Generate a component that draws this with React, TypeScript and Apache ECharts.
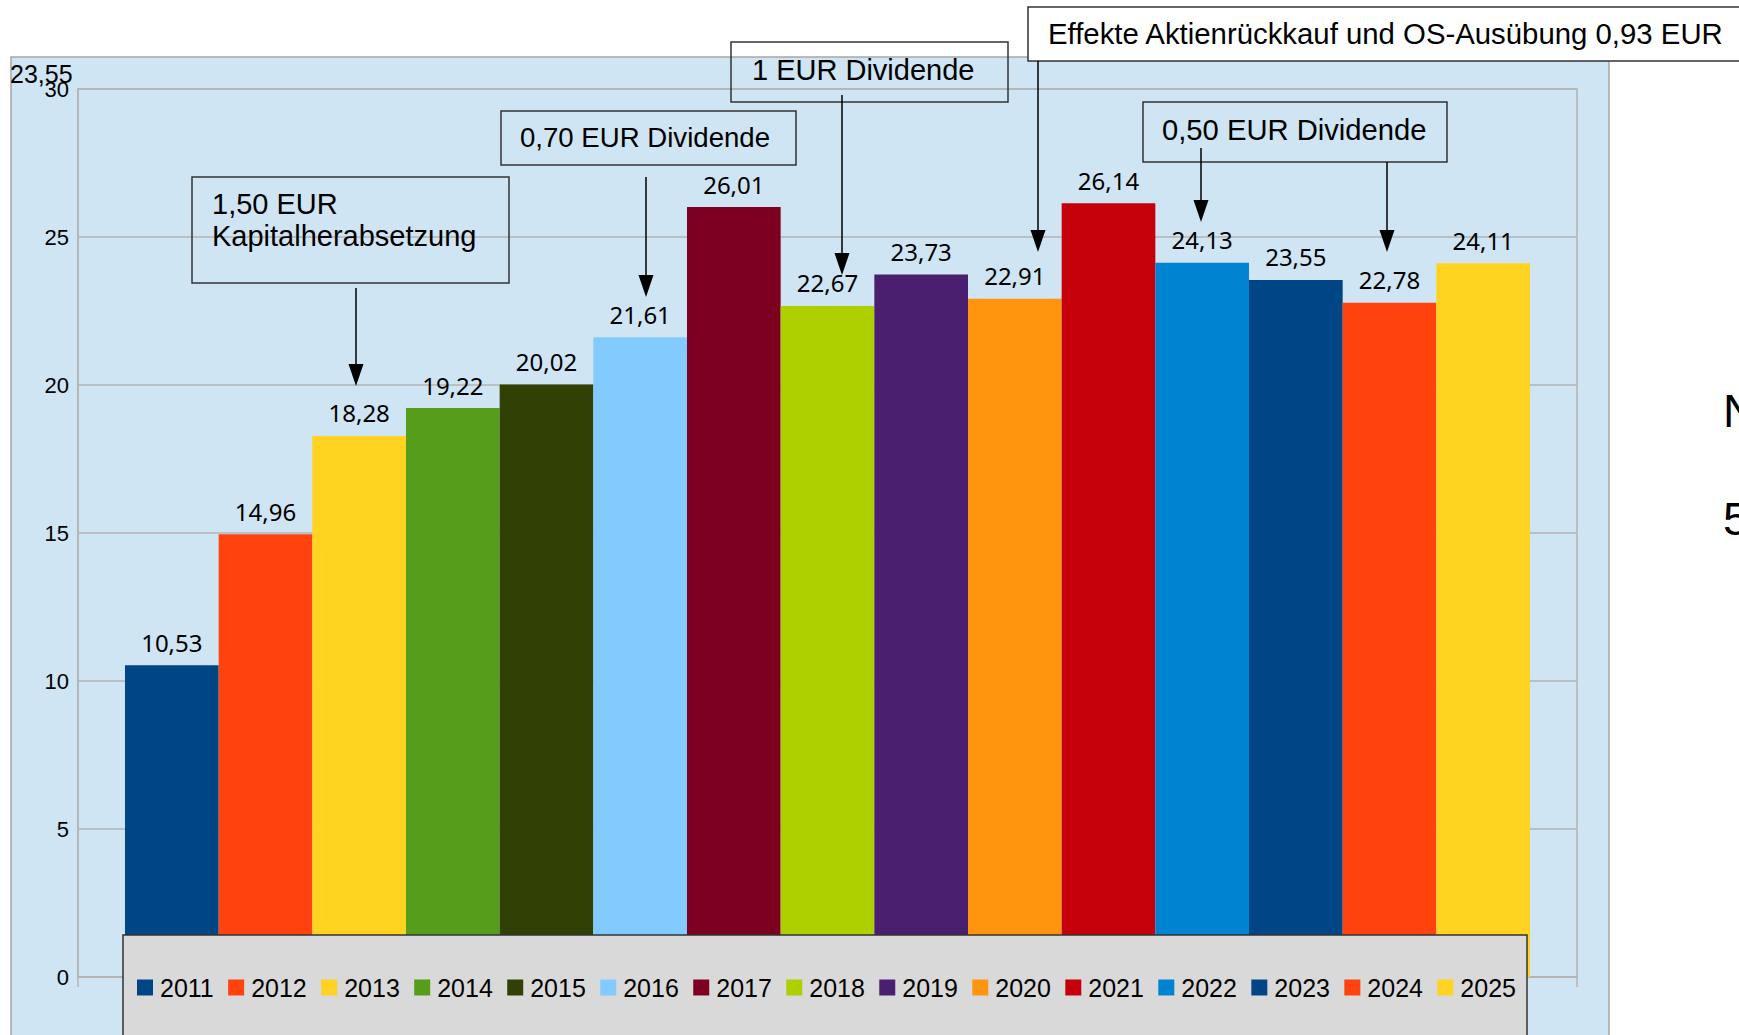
import React, { useEffect, useRef } from "react";
import * as echarts from "echarts";

const years = ["2011", "2012", "2013", "2014", "2015", "2016", "2017", "2018", "2019", "2020", "2021", "2022", "2023", "2024", "2025"];
const values = [10.53, 14.96, 18.28, 19.22, 20.02, 21.61, 26.01, 22.67, 23.73, 22.91, 26.14, 24.13, 23.55, 22.78, 24.11];
const colors = ["#004586", "#ff420e", "#ffd320", "#579d1c", "#314004", "#83caff", "#7e0021", "#aecf00", "#4b1f6f", "#ff950e", "#c5000b", "#0084d1", "#004586", "#ff420e", "#ffd320"];
const yMin = 0;
const yMax = 30;
const yStep = 5;

const notes = [
  { text: "1,50 EUR\nKapitalherabsetzung", box: [192, 177, 317, 106], tx: 212, ty: 219.5, fs: 29, fill: "none" },
  { text: "0,70 EUR Dividende", box: [501, 111, 295, 54], tx: 520, ty: 137, fs: 27.6, fill: "none" },
  { text: "1 EUR Dividende", box: [731, 42, 277, 60], tx: 752, ty: 70, fs: 29, fill: "none" },
  { text: "Effekte Aktienrückkauf und OS-Ausübung 0,93 EUR", box: [1028, 7, 760, 54], tx: 1048, ty: 33, fs: 29.35, fill: "#ffffff" },
  { text: "0,50 EUR Dividende", box: [1143, 102, 304, 60], tx: 1162, ty: 130, fs: 29.2, fill: "none" },
];
const arrows = [
  [356, 288, 386],
  [646, 177, 297],
  [842, 95, 275],
  [1038, 61, 252],
  [1201, 148, 222],
  [1387, 162, 252],
];

const fmt = (v: number) => v.toFixed(2).replace(".", ",");

export default function App() {
  const ref = useRef<HTMLDivElement>(null);
  useEffect(() => {
    if (!ref.current) return;
    const chart = echarts.init(ref.current, undefined, { renderer: "svg" });
    const graphic: any[] = [];
    graphic.push({
      type: "rect",
      z: -10,
      shape: { x: 11, y: 57, width: 1598, height: 1000 },
      style: { fill: "#cfe5f3", stroke: "#a6a6a6", lineWidth: 1.5 },
    });
    graphic.push({
      type: "rect",
      z: 3,
      shape: { x: 123, y: 935, width: 1404, height: 200 },
      style: { fill: "#d9d9d9", stroke: "#333333", lineWidth: 1.5 },
    });
    graphic.push({
      type: "text",
      z: 5,
      x: 10,
      y: 74,
      style: { text: "23,55", fontSize: 25, fontFamily: "Liberation Sans", fill: "#000", verticalAlign: "middle", align: "left" },
    });
    graphic.push({
      type: "text",
      z: 5,
      x: 1723,
      y: 411,
      style: { text: "N", fontSize: 46, fontFamily: "Liberation Sans", fill: "#000", verticalAlign: "middle", align: "left" },
    });
    graphic.push({
      type: "text",
      z: 5,
      x: 1723,
      y: 519,
      style: { text: "5", fontSize: 46, fontFamily: "Liberation Sans", fill: "#000", verticalAlign: "middle", align: "left" },
    });
    notes.forEach((n) => {
      graphic.push({
        type: "rect",
        z: 5,
        shape: { x: n.box[0], y: n.box[1], width: n.box[2], height: n.box[3] },
        style: { fill: n.fill, stroke: "#333333", lineWidth: 1.5 },
      });
      graphic.push({
        type: "text",
        z: 6,
        x: n.tx,
        y: n.ty,
        style: { text: n.text, fontSize: n.fs, lineHeight: 32, fontFamily: "Liberation Sans", fill: "#000", verticalAlign: "middle", align: "left" },
      });
    });
    arrows.forEach(([x, y1, tip]) => {
      graphic.push({
        type: "line",
        z: 6,
        shape: { x1: x, y1, x2: x, y2: tip - 18 },
        style: { stroke: "#000", lineWidth: 1.5 },
      });
      graphic.push({
        type: "polygon",
        z: 6,
        shape: { points: [[x - 7.5, tip - 22], [x + 7.5, tip - 22], [x, tip]] },
        style: { fill: "#000" },
      });
    });

    const series = years.map((y, i) => ({
      name: y,
      type: "bar",
      data: [values[i]],
      barGap: "0%",
      barCategoryGap: "6.27%",
      itemStyle: { color: colors[i] },
      label: {
        show: true,
        position: "top",
        distance: 11,
        formatter: (p: any) => fmt(p.value),
        fontSize: 24,
        fontFamily: "Noto Sans",
        color: "#000",
      },
    }));

    chart.setOption({
      animation: false,
      graphic,
      grid: {
        left: 78,
        top: 89,
        width: 1499,
        height: 888,
        show: true,
        borderColor: "#b3b3b3",
        borderWidth: 1.5,
        backgroundColor: "transparent",
      },
      legend: {
        data: years,
        left: 137,
        top: 975,
        padding: 0,
        itemWidth: 16,
        itemHeight: 16,
        itemGap: 14.4,
        icon: "rect",
        z: 10,
        selectedMode: false,
        textStyle: { fontSize: 25, fontFamily: "Liberation Sans", color: "#000", padding: [0, 0, 0, 2] },
      },
      xAxis: {
        type: "category",
        data: [""],
        axisLine: { show: true, lineStyle: { color: "#b3b3b3", width: 1.5 } },
        axisTick: { show: true, length: 10, lineStyle: { color: "#b3b3b3", width: 1.5 } },
        axisLabel: { show: false },
      },
      yAxis: {
        type: "value",
        min: yMin,
        max: yMax,
        interval: yStep,
        axisLine: { show: true, lineStyle: { color: "#b3b3b3", width: 1.5 } },
        axisTick: { show: false },
        axisLabel: { fontSize: 22, fontFamily: "Liberation Sans", color: "#000", margin: 9 },
        splitLine: { show: true, lineStyle: { color: "#b3b3b3", width: 1.5 } },
      },
      series,
    });
    return () => chart.dispose();
  }, []);
  return (
    <div
      ref={ref}
      style={{ position: "fixed", left: 0, top: 0, width: 1739, height: 1035, background: "#ffffff" }}
    />
  );
}
